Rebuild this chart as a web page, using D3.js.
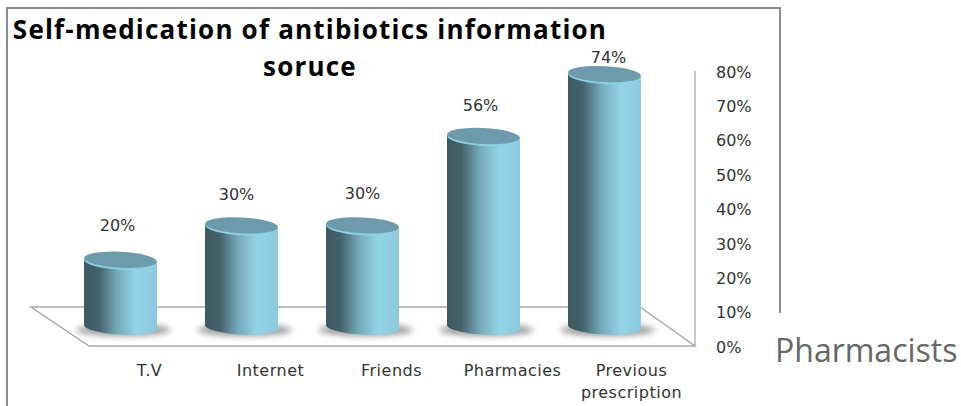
<!DOCTYPE html>
<html>
<head>
<meta charset="utf-8">
<script src="https://cdn.jsdelivr.net/npm/d3@7"></script>
<style>
  body { margin: 0; background: #fff; }
  text { font-family: "DejaVu Sans", sans-serif; fill: #333; }
  .axis path, .axis line { display: none; }
</style>
</head>
<body>
<svg id="chart" width="961" height="406"></svg>
<script>
const categories = ["T.V", "Internet", "Friends", "Pharmacies", "Previous prescription"];
const values = [20, 30, 30, 56, 74];
const yTicks = [0, 10, 20, 30, 40, 50, 60, 70, 80];
const titleLines = ["Self-medication of antibiotics information", "soruce"];
const sideLabel = "Pharmacists";

// hand placed labels in the original, nudges from the cylinder top
const labelNudge = [[-3, -36], [-5, -32], [0, -33], [-3, -32], [4, -18]];

const svg = d3.select("#chart");
const x = d3.scaleBand().domain(categories).range([36, 689]).padding(0.397);
const y = d3.scaleLinear().domain([0, 80]).range([346, 71]);
const depth = 16, rx = x.bandwidth() / 2, ry = 8.5, tilt = 3;
const axisX = 695, floorBack = y(0) - 39, baseY = y(0) - 19;

const defs = svg.append("defs");
const grad = defs.append("linearGradient").attr("id", "cyl");
[[0, "#3d5860"], [0.2, "#44626b"], [0.45, "#74a9b9"], [0.72, "#93d4e7"], [1, "#8cc9dc"]]
  .forEach(s => grad.append("stop").attr("offset", s[0]).attr("stop-color", s[1]));
defs.append("filter").attr("id", "blur")
  .attr("x", "-20%").attr("width", "140%").attr("y", "-50%").attr("height", "200%")
  .append("feGaussianBlur").attr("stdDeviation", 3);

// frame, only partly drawn in the source
svg.append("path")
  .attr("d", "M7,406V8H780V313")
  .attr("fill", "none").attr("stroke", "#8c8c8c").attr("stroke-width", 2);

// floor
svg.append("path")
  .attr("d", `M31,${floorBack}H640L${axisX},${y(0)}H89Z`)
  .attr("fill", "#fff").attr("stroke", "#a9a9a9").attr("stroke-width", 1.5);

// value axis line
svg.append("line")
  .attr("x1", axisX).attr("x2", axisX).attr("y1", y(80)).attr("y2", y(0))
  .attr("stroke", "#b3b3b3").attr("stroke-width", 1.5);

const bars = svg.selectAll(".bar").data(categories).enter().append("g").attr("class", "bar");

bars.append("ellipse")
  .attr("cx", d => x(d) + rx + 3)
  .attr("cy", baseY + 3)
  .attr("rx", rx + 11).attr("ry", 6)
  .attr("fill", "#9a9a9a").attr("filter", "url(#blur)");

bars.append("path")
  .attr("fill", "url(#cyl)")
  .attr("d", (d, i) => {
    const l = x(d), r = l + x.bandwidth(), top = y(values[i]) - depth;
    return `M${l},${top - 2}L${l},${baseY - 2}A${rx},${ry - 1} ${tilt} 0 0 ${r},${baseY + 2}L${r},${top + 2}Z`;
  });

// rim, then the darker lid on top
bars.append("ellipse")
  .attr("cx", d => x(d) + rx)
  .attr("cy", (d, i) => y(values[i]) - depth)
  .attr("rx", rx).attr("ry", ry)
  .attr("transform", (d, i) => `rotate(${tilt} ${x(d) + rx} ${y(values[i]) - depth})`)
  .attr("fill", "#8ed0e3");
bars.append("ellipse")
  .attr("cx", d => x(d) + rx)
  .attr("cy", (d, i) => y(values[i]) - depth - 1.5)
  .attr("rx", rx).attr("ry", ry - 0.5)
  .attr("transform", (d, i) => `rotate(${tilt} ${x(d) + rx} ${y(values[i]) - depth - 1.5})`)
  .attr("fill", "#6d9bab");

bars.append("text")
  .attr("x", (d, i) => x(d) + rx + labelNudge[i][0])
  .attr("y", (d, i) => y(values[i]) - depth + labelNudge[i][1])
  .attr("dy", "0.35em")
  .attr("text-anchor", "middle")
  .style("font-size", "16px")
  .text((d, i) => values[i] + "%");

// value axis
const yAxis = svg.append("g")
  .attr("class", "axis")
  .attr("transform", `translate(${axisX},1)`)
  .call(d3.axisRight(y).tickValues(yTicks).tickSize(0).tickPadding(21).tickFormat(d => d + "%"));
yAxis.selectAll("text").style("font-size", "16px").style("font-family", '"DejaVu Sans", sans-serif');

// category axis, pushed right because of the 3d projection
const xAxis = svg.append("g")
  .attr("class", "axis")
  .attr("transform", `translate(29,${y(0)})`)
  .call(d3.axisBottom(x).tickSize(0).tickPadding(0).tickFormat(""));
xAxis.selectAll(".tick text").each(function(d) {
  const t = d3.select(this).attr("y", 0).attr("dy", null)
    .style("font-size", "16px").style("letter-spacing", "0.5px")
    .style("font-family", '"DejaVu Sans", sans-serif');
  d.split(" ").forEach((w, i) => {
    t.append("tspan").attr("x", d.includes(" ") ? -2 : 0).attr("y", 30 + i * 22).text(w);
  });
});

svg.selectAll(".title").data(titleLines).enter().append("text")
  .attr("class", "title")
  .attr("x", 310)
  .attr("y", (d, i) => 39 + i * 37)
  .attr("text-anchor", "middle")
  .style("font-family", '"Open Sans", sans-serif')
  .style("font-size", "26px")
  .style("font-weight", 700)
  .style("letter-spacing", "1.2px")
  .style("fill", "#000")
  .text(d => d);

svg.append("text")
  .attr("x", 775).attr("y", 362)
  .style("font-family", '"Open Sans", sans-serif')
  .style("font-size", "32px")
  .style("fill", "#666")
  .text(sideLabel);
</script>
</body>
</html>
